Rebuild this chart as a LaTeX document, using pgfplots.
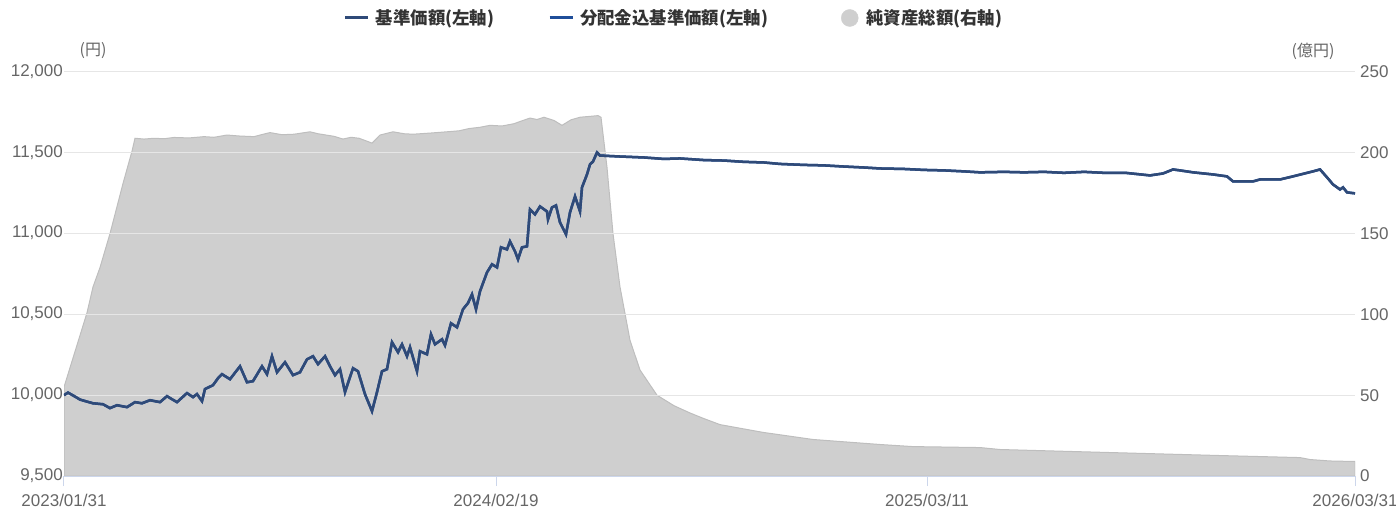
\documentclass[border=0pt]{standalone}
\usepackage{fontspec}
\setmainfont{Liberation Sans}
\newfontfamily\jp{Noto Sans CJK JP}
\usepackage{pgfplots}
\pgfplotsset{compat=1.18}
\definecolor{tickc}{RGB}{102,102,102}
\definecolor{legc}{RGB}{51,51,51}
\definecolor{gridc}{RGB}{230,230,230}
\definecolor{axisc}{RGB}{204,214,235}
\definecolor{navc}{RGB}{47,74,120}
\definecolor{navb}{RGB}{31,78,153}
\definecolor{areac}{RGB}{207,207,207}
\definecolor{areae}{RGB}{190,190,190}
\pgfplotsset{base/.style={
  scale only axis, width=1291pt, height=404pt, at={(0pt,0pt)}, anchor=south west,
  xmin=0, xmax=1291,
  tick label style={font=\fontsize{17}{20}\selectfont, text=tickc},
  /pgf/number format/assume math mode=true,
  /pgf/number format/1000 sep={,},
  scaled y ticks=false, scaled x ticks=false,
}}
\begin{document}
\begin{tikzpicture}
\useasboundingbox (-64pt,-35pt) rectangle (1332pt,476pt);
% right axis: net assets
\begin{axis}[base,
  ymin=0, ymax=250, ytick={0,50,100,150,200,250},
  axis y line*=right, hide x axis,
  y axis line style={draw=none}, ytick style={draw=none},
  yticklabel style={anchor=west, inner sep=0pt, xshift=5pt},
]
\addplot[fill=areac, draw=areae, line width=1pt] coordinates {
(0,55) (6,67) (23,101) (29,117) (36,129) (46,150) (59,181) (68,201) (71,209)
(80,208.5) (90,209) (100,208.7) (110,209.5) (125,209.2) (140,210) (150,209.6) (163,211) (175,210.4) (190,210) (198,211.3) (206,212.5) (218,211.2) (230,211.5)
(246,213) (254,211.8) (262,211) (270,210.2) (279,208.5) (287,209.6) (295,209) (302,207.4) (308,206) (316,211) (329,213)
(340,211.8) (349,211.5) (366,212.2) (383,213) (395,213.6) (405,215) (416,215.8) (426,217) (438,216.6) (450,218) (458,219.8) (466,221.5) (473,220.6) (480,222)
(490,220) (498,217) (507,220.4) (516,222) (525,222.5) (534,223) (537,222) (543,191) (549,150) (556,117)
(566,84) (576,65.6) (593,50) (610,43.5) (626,39) (640,35.5) (656,31.8)
(699,27) (749,22.6) (816,19.5) (849,18.2) (916,17.6) (936,16.4) (1000,15.3)
(1083,13.9) (1160,12.6) (1236,11.4) (1246,10.2) (1266,9.3) (1289,9.0) (1291,9.0)
} \closedcycle;
\end{axis}
% left axis: NAV
\begin{axis}[base,
  ymin=9500, ymax=12000, ytick={9500,10000,10500,11000,11500,12000},
  axis x line*=bottom, axis y line*=left,
  y axis line style={draw=none}, ytick style={draw=none},
  x axis line style={draw=axisc, line width=1pt},
  xtick={0,432,863,1291},
  xticklabels={2023/01/31,2024/02/19,2025/03/11,2026/03/31},
  xtick style={draw=axisc, line width=1pt},
  tick align=outside, major tick length=10pt,
  yticklabel style={anchor=east, inner sep=0pt, xshift=9pt, yshift=0.5pt},
  xticklabel style={inner sep=0pt, yshift=-8pt},
  ymajorgrids, grid style={draw=gridc, line width=1pt},
  legend columns=3,
  legend style={draw=none, fill=none, at={(0.4725,1.1337)}, anchor=center,
    font=\jp\bfseries\fontsize{17.4}{20}\selectfont, text=legc,
    /tikz/every even column/.append style={column sep=52pt}},
]
\addlegendimage{legend image code/.code={\draw[navc, line width=3pt] (0pt,0pt) -- (23pt,0pt);}}
\addlegendentry{\hspace{4pt}基準価額(左軸)}
\addlegendimage{legend image code/.code={\draw[navb, line width=3pt] (0pt,0pt) -- (23pt,0pt);}}
\addlegendentry{\hspace{4pt}分配金込基準価額(左軸)\rule{19pt}{0pt}}
\addlegendimage{legend image code/.code={\fill[areac] (11.5pt,0pt) circle (8.5pt);}}
\addlegendentry{\hspace{6pt}純資産総額(右軸)}
\pgfplotstableread{
x y
0 10000
4 10016
10 9995
16 9973
22 9962
29 9950
39 9944
46 9920
53 9938
63 9926
71 9957
78 9950
86 9969
96 9957
103 9994
108 9975
113 9957
123 10013
129 9988
133 10007
138 9963
141 10038
149 10062
154 10105
158 10130
166 10099
176 10179
183 10080
189 10087
198 10179
203 10130
208 10241
213 10142
221 10204
229 10124
236 10142
243 10222
249 10241
254 10192
261 10241
266 10179
271 10124
276 10161
281 10019
289 10167
294 10148
301 10006
308 9901
313 10019
318 10148
323 10161
328 10328
334 10266
338 10315
343 10241
346 10297
353 10148
356 10272
363 10253
367 10377
371 10315
378 10346
381 10309
387 10445
393 10420
399 10532
404 10570
408 10624
412 10532
416 10643
423 10760
428 10810
433 10791
437 10915
443 10902
446 10952
451 10890
454 10841
458 10915
463 10921
466 11150
471 11119
476 11168
483 11137
484 11088
488 11162
492 11174
496 11069
502 10995
506 11131
511 11230
516 11137
518 11286
523 11366
526 11428
529 11446
533 11502
536 11483
556 11477
580 11471
600 11462
616 11465
640 11455
660 11452
680 11444
700 11440
716 11431
740 11425
760 11422
780 11415
800 11409
816 11403
840 11400
860 11394
880 11391
900 11385
916 11379
940 11382
960 11379
980 11382
1000 11376
1020 11382
1040 11376
1063 11375
1086 11360
1099 11372
1109 11397
1116 11391
1129 11379
1149 11366
1163 11354
1169 11323
1189 11323
1196 11335
1216 11335
1229 11354
1249 11385
1256 11397
1263 11348
1269 11304
1276 11273
1279 11286
1283 11255
1291 11249
}\navtable
\addplot[navb, line width=2.5pt, forget plot] table {\navtable};
\addplot[navc, line width=2.5pt, forget plot] table {\navtable};
\end{axis}
\node[font=\jp\fontsize{16}{19}\selectfont, text=tickc] at (29pt,425pt) {(円)};
\node[font=\jp\fontsize{16}{19}\selectfont, text=tickc] at (1249pt,425pt) {(億円)};
\end{tikzpicture}
\end{document}
